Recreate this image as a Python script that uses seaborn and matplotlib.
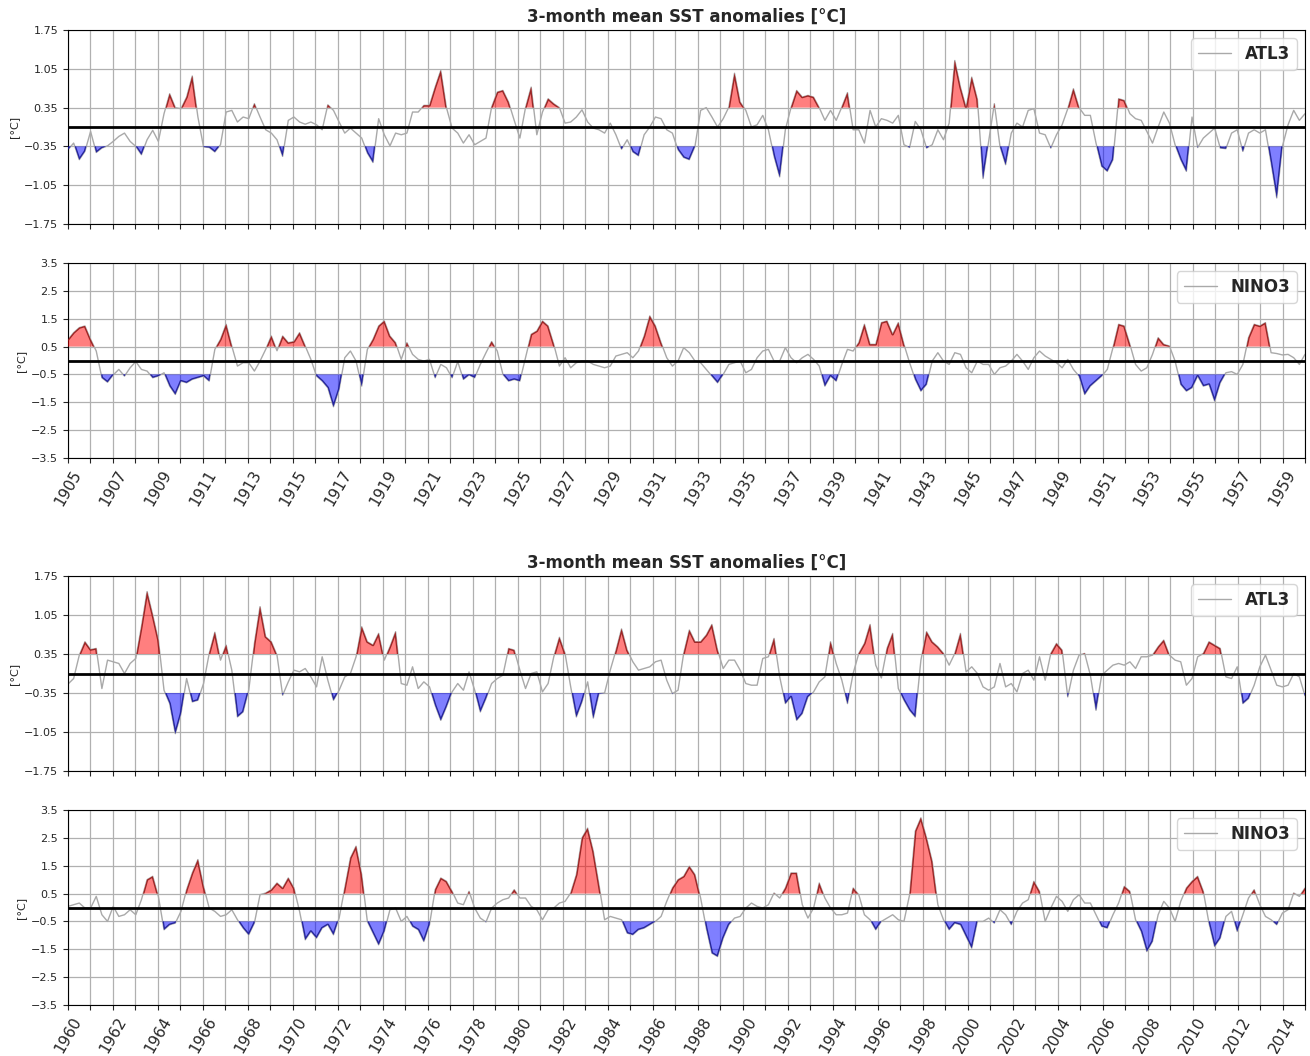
"""
SST anomaly panels: ATL3 / NINO3, 3-month running mean, two 55-year blocks.
Values read off the reference, 4 samples per year (Jan, Apr, Jul, Oct).
"""
import numpy as np
import pandas as pd
import matplotlib
matplotlib.use("Agg")
import matplotlib.pyplot as plt
from matplotlib.path import Path
import seaborn as sns

# ============================================================================
# 0. DATA
# ============================================================================
START_EARLY = 1905
START_LATE = 1960
N_YEARS = 55

TITLE = "3-month mean SST anomalies [°C]"
ATL3_TICKS = [-1.75, -1.05, -0.35, 0.35, 1.05, 1.75]
NINO3_TICKS = [-3.5, -2.5, -1.5, -0.5, 0.5, 1.5, 2.5, 3.5]
ATL3_THR = 0.35
NINO3_THR = 0.5

atl3_early = [
    [-0.41, -0.29, -0.59, -0.44],  # 1905
    [-0.08, -0.46, -0.38, -0.34],
    [-0.26, -0.17, -0.11, -0.26],
    [-0.35, -0.50, -0.23, -0.06],
    [-0.26, 0.24, 0.60, 0.35],
    [0.33, 0.54, 0.92, 0.18],      # 1910
    [-0.36, -0.37, -0.45, -0.32],
    [0.27, 0.30, 0.09, 0.18],
    [0.15, 0.42, 0.18, -0.05],
    [-0.11, -0.23, -0.53, 0.12],
    [0.18, 0.09, 0.05, 0.09],      # 1915
    [0.04, -0.05, 0.40, 0.30],
    [0.09, -0.11, -0.02, -0.11],
    [-0.20, -0.47, -0.64, 0.15],
    [-0.14, -0.34, -0.11, -0.14],
    [-0.11, 0.27, 0.27, 0.39],     # 1920
    [0.39, 0.72, 1.02, 0.35],
    [-0.02, -0.11, -0.29, -0.14],
    [-0.32, -0.26, -0.20, 0.36],
    [0.63, 0.66, 0.45, 0.12],
    [-0.20, 0.35, 0.72, -0.14],    # 1925
    [0.27, 0.51, 0.42, 0.35],
    [0.07, 0.09, 0.18, 0.31],
    [0.09, -0.02, -0.05, -0.11],
    [0.07, -0.14, -0.40, -0.23],
    [-0.45, -0.52, -0.14, 0.00],   # 1930
    [0.18, 0.15, -0.05, -0.11],
    [-0.41, -0.55, -0.59, -0.35],
    [0.30, 0.35, 0.18, 0.00],
    [0.15, 0.36, 0.97, 0.45],
    [0.30, 0.00, 0.04, 0.21],      # 1935
    [-0.05, -0.53, -0.90, -0.05],
    [0.35, 0.66, 0.54, 0.57],
    [0.54, 0.35, 0.12, 0.30],
    [0.12, 0.36, 0.62, -0.05],
    [-0.05, -0.29, 0.30, 0.00],    # 1940
    [0.15, 0.12, 0.07, 0.21],
    [-0.32, -0.37, 0.10, -0.05],
    [-0.38, -0.32, -0.05, -0.23],
    [0.07, 1.20, 0.72, 0.35],
    [0.90, 0.50, -0.93, -0.25],    # 1945
    [0.42, -0.35, -0.68, -0.11],
    [0.07, 0.00, 0.30, 0.33],
    [-0.11, -0.14, -0.38, -0.14],
    [0.04, 0.33, 0.69, 0.35],
    [0.21, 0.21, -0.29, -0.71],    # 1950
    [-0.80, -0.59, 0.51, 0.48],
    [0.24, 0.15, 0.12, -0.08],
    [-0.29, 0.00, 0.27, 0.07],
    [-0.32, -0.59, -0.80, 0.18],
    [-0.37, -0.20, -0.11, -0.02],  # 1955
    [-0.38, -0.39, -0.11, -0.05],
    [-0.44, -0.11, -0.05, -0.11],
    [-0.05, -0.65, -1.28, -0.35],
    [0.04, 0.30, 0.12, 0.24],      # 1959
]

nino3_early = [
    [0.75, 1.00, 1.18, 1.24],      # 1905
    [0.76, 0.34, -0.62, -0.78],
    [-0.52, -0.32, -0.56, -0.26],
    [-0.04, -0.32, -0.38, -0.62],
    [-0.56, -0.44, -0.92, -1.22],
    [-0.74, -0.80, -0.68, -0.62],  # 1910
    [-0.56, -0.74, 0.40, 0.76],
    [1.30, 0.52, -0.20, -0.08],
    [-0.08, -0.38, -0.02, 0.40],
    [0.88, 0.35, 0.88, 0.64],
    [0.68, 1.00, 0.52, 0.04],      # 1915
    [-0.56, -0.74, -0.98, -1.66],
    [-1.04, 0.10, 0.34, -0.02],
    [-0.92, 0.40, 0.76, 1.24],
    [1.42, 0.88, 0.64, 0.04],
    [0.64, 0.22, 0.04, -0.02],     # 1920
    [0.04, -0.62, -0.14, -0.26],
    [-0.62, -0.04, -0.68, -0.52],
    [-0.62, -0.14, 0.28, 0.68],
    [0.34, -0.50, -0.74, -0.68],
    [-0.74, 0.10, 0.94, 1.06],     # 1925
    [1.42, 1.24, 0.58, -0.20],
    [0.10, -0.26, -0.08, -0.02],
    [-0.02, -0.14, -0.20, -0.26],
    [-0.20, 0.16, 0.22, 0.28],
    [0.10, 0.34, 0.88, 1.60],      # 1930
    [1.24, 0.64, 0.10, -0.20],
    [-0.02, 0.46, 0.28, -0.02],
    [-0.08, -0.32, -0.56, -0.80],
    [-0.50, -0.14, -0.08, -0.02],
    [-0.44, -0.32, 0.10, 0.34],    # 1935
    [0.40, -0.02, -0.02, 0.46],
    [0.10, -0.08, 0.10, 0.22],
    [0.04, -0.20, -0.92, -0.56],
    [-0.74, -0.14, 0.40, 0.34],
    [0.64, 1.30, 0.58, 0.58],      # 1940
    [1.36, 1.42, 0.94, 1.36],
    [0.58, -0.08, -0.68, -1.10],
    [-0.86, -0.02, 0.28, -0.02],
    [-0.14, 0.28, 0.22, -0.26],
    [-0.44, -0.02, -0.14, -0.14],  # 1945
    [-0.50, -0.26, -0.20, -0.02],
    [0.22, -0.02, -0.32, 0.10],
    [0.34, 0.16, 0.04, -0.08],
    [-0.26, 0.04, -0.32, -0.56],
    [-1.22, -0.92, -0.74, -0.56],  # 1950
    [-0.32, 0.46, 1.30, 1.24],
    [0.58, -0.14, -0.38, -0.26],
    [0.22, 0.82, 0.58, 0.52],
    [-0.02, -0.86, -1.10, -0.98],
    [-0.56, -0.92, -0.86, -1.46],  # 1955
    [-0.80, -0.44, -0.40, -0.50],
    [-0.14, 0.82, 1.30, 1.24],
    [1.36, 0.28, 0.25, 0.20],
    [0.22, 0.10, -0.14, 0.22],     # 1959
]

atl3_late = [
    [-0.19, -0.09, 0.33, 0.57],    # 1960
    [0.43, 0.45, -0.27, 0.24],
    [0.21, 0.18, 0.00, 0.18],
    [0.27, 0.84, 1.47, 1.05],
    [0.60, -0.30, -0.54, -1.08],
    [-0.72, -0.09, -0.51, -0.48],  # 1965
    [-0.18, 0.36, 0.74, 0.24],
    [0.51, 0.06, -0.78, -0.69],
    [-0.30, 0.54, 1.20, 0.66],
    [0.57, 0.33, -0.39, -0.15],
    [0.06, 0.03, 0.09, -0.06],     # 1970
    [-0.24, 0.30, -0.12, -0.48],
    [-0.30, -0.06, 0.00, 0.30],
    [0.84, 0.57, 0.51, 0.72],
    [0.24, 0.48, 0.75, -0.18],
    [-0.21, 0.12, -0.27, -0.15],   # 1975
    [-0.24, -0.57, -0.84, -0.60],
    [-0.33, -0.18, -0.30, 0.03],
    [-0.30, -0.69, -0.45, -0.18],
    [-0.09, -0.03, 0.45, 0.42],
    [0.06, -0.27, 0.00, 0.03],     # 1980
    [-0.33, -0.18, 0.30, 0.65],
    [0.36, -0.24, -0.78, -0.51],
    [-0.15, -0.80, -0.36, -0.35],
    [0.06, 0.41, 0.80, 0.42],
    [0.21, 0.06, 0.09, 0.12],      # 1985
    [0.21, 0.24, -0.12, -0.36],
    [-0.30, 0.36, 0.78, 0.57],
    [0.57, 0.69, 0.88, 0.42],
    [0.09, 0.24, 0.24, 0.06],
    [-0.18, -0.21, -0.21, 0.27],   # 1990
    [0.30, 0.63, -0.06, -0.54],
    [-0.42, -0.84, -0.72, -0.42],
    [-0.33, -0.15, -0.06, 0.57],
    [0.18, -0.12, -0.54, 0.00],
    [0.36, 0.54, 0.88, 0.15],      # 1995
    [-0.08, 0.45, 0.72, -0.27],
    [-0.48, -0.66, -0.78, 0.24],
    [0.75, 0.57, 0.48, 0.36],
    [0.15, 0.36, 0.72, 0.03],
    [0.12, 0.00, -0.24, -0.30],    # 2000
    [-0.24, 0.18, -0.24, -0.18],
    [-0.33, 0.00, 0.06, -0.12],
    [0.30, -0.12, 0.36, 0.54],
    [0.42, -0.42, 0.06, 0.33],
    [0.36, -0.03, -0.66, -0.03],   # 2005
    [0.06, 0.15, 0.18, 0.15],
    [0.21, 0.09, 0.30, 0.30],
    [0.33, 0.48, 0.60, 0.33],
    [0.24, 0.21, -0.21, -0.09],
    [0.30, 0.36, 0.57, 0.51],      # 2010
    [0.45, -0.06, -0.09, 0.12],
    [-0.54, -0.45, -0.21, 0.12],
    [0.33, 0.06, -0.21, -0.24],
    [-0.21, 0.00, -0.06, -0.40],   # 2014
]

nino3_late = [
    [0.04, 0.10, 0.16, -0.02],     # 1960
    [-0.02, 0.40, -0.26, -0.50],
    [0.04, -0.32, -0.26, -0.08],
    [-0.26, 0.28, 1.00, 1.12],
    [0.40, -0.80, -0.62, -0.56],
    [-0.14, 0.64, 1.24, 1.72],     # 1965
    [0.76, -0.02, -0.14, -0.32],
    [-0.26, -0.08, -0.44, -0.74],
    [-0.98, -0.56, 0.46, 0.52],
    [0.64, 0.88, 0.70, 1.06],
    [0.70, -0.14, -1.16, -0.86],   # 1970
    [-1.10, -0.74, -0.62, -0.98],
    [-0.38, 0.70, 1.78, 2.20],
    [1.18, -0.50, -0.92, -1.34],
    [-0.86, -0.08, -0.02, -0.50],
    [-0.32, -0.68, -0.80, -1.22],  # 1975
    [-0.62, 0.64, 1.06, 0.94],
    [0.58, 0.16, 0.10, 0.58],
    [-0.02, -0.38, -0.52, -0.02],
    [0.16, 0.28, 0.34, 0.64],
    [0.34, 0.34, 0.04, -0.08],     # 1980
    [-0.44, -0.08, -0.02, 0.16],
    [0.22, 0.52, 1.18, 2.50],
    [2.85, 2.02, 0.82, -0.44],
    [-0.32, -0.38, -0.44, -0.92],
    [-0.98, -0.80, -0.74, -0.62],  # 1985
    [-0.50, -0.32, 0.22, 0.70],
    [1.00, 1.12, 1.48, 1.18],
    [0.34, -0.74, -1.64, -1.76],
    [-1.10, -0.62, -0.38, -0.32],
    [-0.02, 0.16, 0.04, -0.02],    # 1990
    [0.10, 0.52, 0.34, 0.70],
    [1.24, 1.24, 0.10, -0.38],
    [-0.02, 0.88, 0.34, -0.02],
    [-0.26, -0.26, -0.20, 0.70],
    [0.46, -0.26, -0.44, -0.80],   # 1995
    [-0.50, -0.38, -0.26, -0.44],
    [-0.50, 0.46, 2.74, 3.22],
    [2.50, 1.66, 0.10, -0.44],
    [-0.80, -0.56, -0.62, -1.04],
    [-1.46, -0.50, -0.50, -0.38],  # 2000
    [-0.56, -0.08, -0.26, -0.62],
    [-0.14, 0.16, 0.28, 0.94],
    [0.58, -0.50, -0.02, 0.40],
    [0.22, -0.14, 0.28, 0.46],
    [0.16, 0.16, -0.26, -0.68],    # 2005
    [-0.74, -0.26, 0.16, 0.76],
    [0.58, -0.44, -0.86, -1.58],
    [-1.22, -0.26, 0.22, -0.02],
    [-0.50, 0.22, 0.70, 0.94],
    [1.12, 0.58, -0.56, -1.40],    # 2010
    [-1.10, -0.32, -0.14, -0.86],
    [-0.26, 0.34, 0.64, 0.10],
    [-0.32, -0.44, -0.62, -0.20],
    [-0.08, 0.52, 0.40, 0.70],     # 2014
]

# ============================================================================
# 1. PANEL HELPER
# ============================================================================
FIG_W, FIG_H = 1310, 1056


def add_ax(fig, top, bottom, left=68, right=1305):
    return fig.add_axes([left / FIG_W, 1 - bottom / FIG_H,
                         (right - left) / FIG_W, (bottom - top) / FIG_H])


def shaded(ax, t, vals, base, mask, face, edge):
    # fill between threshold and curve; dark outline only along the curve side
    coll = ax.fill_between(t, base, vals, where=mask, interpolate=True,
                           facecolor=face, edgecolor="none", zorder=3)
    paths = coll.get_paths()
    if not paths:
        return
    clip = Path.make_compound_path(*paths)
    line, = ax.plot(t, vals, color=edge, lw=1.8, zorder=3.5)
    line.set_clip_path(clip, ax.transData)


def draw_panel(ax, start, rows, name, thr, yticks, show_xlabels, title=None):
    vals = np.asarray(rows, dtype=float).ravel()
    assert len(vals) == N_YEARS * 4, (name, start, len(vals))
    t = np.linspace(start, start + N_YEARS, len(vals))
    df = pd.DataFrame({"year": t, "anom": vals})

    sns.lineplot(data=df, x="year", y="anom", ax=ax, color="#a9a9a9",
                 lw=1.0, label=name)
    shaded(ax, t, vals, thr, vals >= thr, (1, 0, 0, 0.5), (0.55, 0.1, 0.1, 0.85))
    shaded(ax, t, vals, -thr, vals <= -thr, (0, 0, 1, 0.5), (0.1, 0.1, 0.55, 0.85))
    ax.axhline(0, color="black", lw=2, zorder=4)

    years = np.arange(start, start + N_YEARS + 1)
    ax.set_xticks(years)
    ax.set_xticklabels([str(y) if (y - start) % 2 == 0 and y < start + N_YEARS else ""
                        for y in years], rotation=60, fontsize=11)
    ax.set_xlim(start, start + N_YEARS)
    ax.set_ylim(yticks[0], yticks[-1])
    ax.set_yticks(yticks)
    ax.tick_params(axis="y", labelsize=8)
    ax.tick_params(axis="x", labelbottom=show_xlabels)
    ax.grid(True, color="#b0b0b0", lw=0.9)
    ax.set_xlabel("")
    ax.set_ylabel("[°C]", fontsize=8)
    for sp in ax.spines.values():
        sp.set_visible(True)
        sp.set_color("black")
    ax.legend(loc="upper right", prop={"weight": "bold", "size": 12},
              handlelength=2.0, framealpha=0.8)
    if title:
        ax.set_title(title, fontsize=12, fontweight="bold")


# ============================================================================
# 2. FIGURE
# ============================================================================
sns.set_style("ticks")
plt.rcParams["font.family"] = ["DejaVu Sans"]

fig = plt.figure(figsize=(FIG_W / 100, FIG_H / 100), dpi=100)

ax1 = add_ax(fig, 30, 224)
ax2 = add_ax(fig, 263, 458)
ax3 = add_ax(fig, 576, 771)
ax4 = add_ax(fig, 810, 1005)

draw_panel(ax1, START_EARLY, atl3_early, "ATL3", ATL3_THR, ATL3_TICKS, False, TITLE)
draw_panel(ax2, START_EARLY, nino3_early, "NINO3", NINO3_THR, NINO3_TICKS, True)
draw_panel(ax3, START_LATE, atl3_late, "ATL3", ATL3_THR, ATL3_TICKS, False, TITLE)
draw_panel(ax4, START_LATE, nino3_late, "NINO3", NINO3_THR, NINO3_TICKS, True)

fig.savefig("out.png", dpi=100)
print("saved out.png")
